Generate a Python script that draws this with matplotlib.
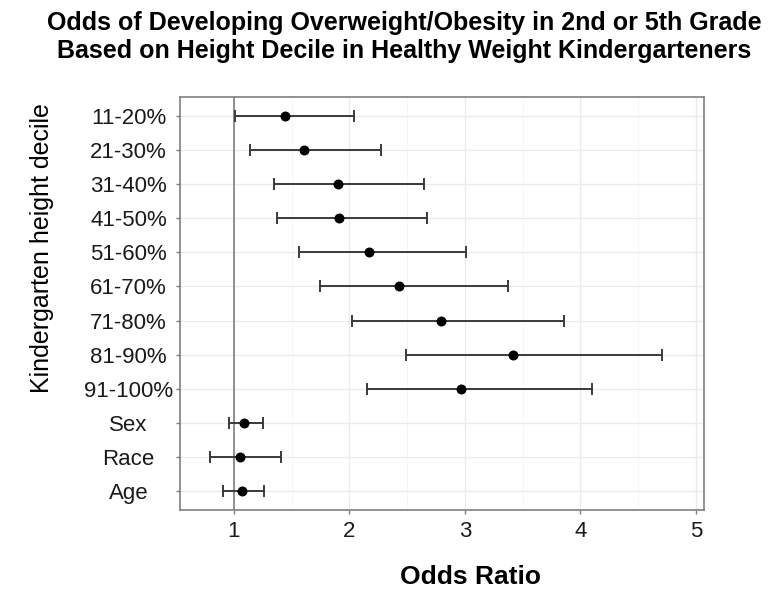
import numpy as np
import matplotlib.pyplot as plt

plt.rcParams['font.family'] = ['Liberation Sans', 'DejaVu Sans']

labels = ['11-20%', '21-30%', '31-40%', '41-50%', '51-60%', '61-70%',
          '71-80%', '81-90%', '91-100%', 'Sex', 'Race', 'Age']
odds = [1.44, 1.61, 1.90, 1.91, 2.17, 2.43, 2.79, 3.42, 2.97, 1.09, 1.05, 1.07]
ci_lo = [1.01, 1.14, 1.35, 1.37, 1.56, 1.75, 2.02, 2.49, 2.15, 0.96, 0.79, 0.91]
ci_hi = [2.04, 2.27, 2.65, 2.67, 3.01, 3.37, 3.86, 4.71, 4.10, 1.25, 1.41, 1.26]
xticks = [1, 2, 3, 4, 5]

odds = np.array(odds)
err = [odds - np.array(ci_lo), np.array(ci_hi) - odds]
y = np.arange(len(labels))[::-1]

fig = plt.figure(figsize=(7.74, 5.90), dpi=100)
ax = fig.add_axes([180 / 774, 1 - 510 / 590, 524 / 774, 413 / 590])

# grid like ggplot theme_bw
for v in xticks:
    ax.axvline(v, color='#ebebeb', lw=1.0, zorder=0)
for v in [1.5, 2.5, 3.5, 4.5]:
    ax.axvline(v, color='#f5f5f5', lw=0.6, zorder=0)
for v in y:
    ax.axhline(v, color='#ebebeb', lw=1.0, zorder=0)

ax.axvline(1, color='#7f7f7f', lw=1.2, zorder=1)

ax.errorbar(odds, y, xerr=err, fmt='none', ecolor='#3a3a3a', elinewidth=1.4,
            capsize=4.5, capthick=1.4, zorder=2)
ax.scatter(odds, y, s=38, color='black', zorder=3)

ax.set_xlim(0.534, 5.07)
ax.set_ylim(-0.55, len(labels) - 0.45)
ax.set_xticks(xticks)
ax.set_yticks(y)
ax.set_yticklabels(labels, ha='center')
ax.tick_params(axis='both', labelsize=16, colors='#7f7f7f', labelcolor='#1a1a1a',
               length=3, width=1)
ax.tick_params(axis='y', pad=34)
ax.tick_params(axis='x', pad=5)
for s in ax.spines.values():
    s.set_color('#7f7f7f')
    s.set_linewidth(1.2)

ax.set_xlabel('Odds Ratio', fontsize=19, fontweight='bold')
ax.xaxis.set_label_coords(0.555, -0.134)
ax.set_ylabel('Kindergarten height decile', fontsize=18)
ax.yaxis.set_label_coords(-0.240, 0.634)

fig.text(404 / 774, 1 - 37 / 590,
         'Odds of Developing Overweight/Obesity in 2nd or 5th Grade\n'
         'Based on Height Decile in Healthy Weight Kindergarteners',
         ha='center', va='center', fontsize=18, fontweight='bold',
         linespacing=1.2)

fig.savefig('out.png', dpi=100)
